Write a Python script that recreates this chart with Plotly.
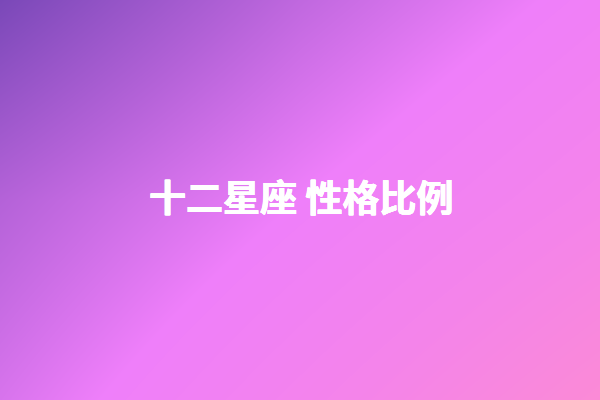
import plotly.graph_objects as go

# background gradient sample grid (position along gradient, 0 = purple, 1 = pink)
grid_x = [0, 300, 600]
grid_y = [0, 200, 400]
grid_t = [
    [0.00, 0.30, 0.55],
    [0.25, 0.50, 0.75],
    [0.40, 0.70, 1.00],
]
title_text = "十二星座 性格比例"

colorscale = [
    [0.0, "#7a48b8"],
    [0.25, "#b462d8"],
    [0.5, "#ef7ffa"],
    [0.75, "#f484ea"],
    [1.0, "#fb8ad6"],
]

fig = go.Figure(
    go.Heatmap(
        x=grid_x, y=grid_y, z=grid_t,
        colorscale=colorscale, zmin=0, zmax=1,
        zsmooth="best", showscale=False, hoverinfo="skip",
    )
)
fig.add_annotation(
    x=0.502, y=0.51, xref="paper", yref="paper",
    text=f"<b>{title_text}</b>", showarrow=False,
    font=dict(
        family="Noto Sans CJK SC Bold, Noto Sans CJK SC, sans-serif",
        size=37, color="white", weight=700,
        shadow="0.4px 0 0 white, -0.4px 0 0 white, 0 0.4px 0 white, 0 -0.4px 0 white",
    ),
    xanchor="center", yanchor="middle",
)
fig.update_xaxes(visible=False, range=[0, 600])
fig.update_yaxes(visible=False, range=[400, 0])
fig.update_layout(
    width=600, height=400,
    margin=dict(l=0, r=0, t=0, b=0),
    paper_bgcolor="#c468e0", plot_bgcolor="#c468e0",
)
fig.write_html(
    "out.html",
    config={"displayModeBar": False},
    post_script="document.body.style.margin='0';document.body.style.overflow='hidden';",
)
